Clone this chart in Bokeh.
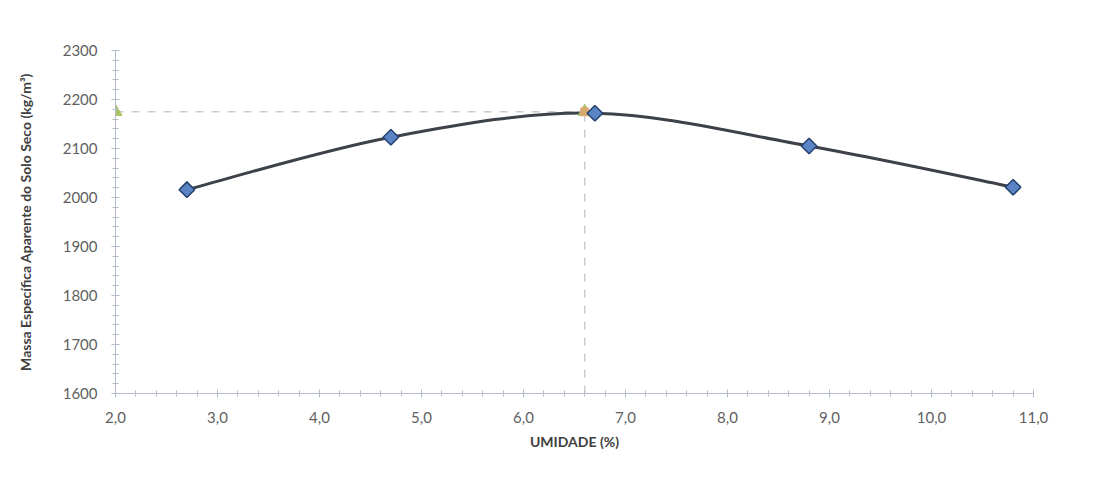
import numpy as np
from bokeh.plotting import figure
from bokeh.models import SingleIntervalTicker, CustomJSTickFormatter, Range1d, ColumnDataSource
from bokeh.embed import file_html
from bokeh.resources import INLINE

# Data
umidade = [2.7, 4.7, 6.7, 8.8, 10.8]
massa = [2016, 2123, 2172, 2105, 2021]
umidade_otima = 6.6
massa_max = 2175
x_min, x_max = 2.0, 11.0
y_min, y_max = 1600, 2300

p = figure(width=1088, height=474, output_backend="svg", toolbar_location=None,
           x_range=Range1d(x_min, x_max), y_range=Range1d(y_min, y_max),
           min_border_left=115, min_border_right=55, min_border_top=50, min_border_bottom=81)
p.frame_width = 918
p.frame_height = 343
p.outline_line_color = None
p.xgrid.grid_line_color = None
p.ygrid.grid_line_color = None
p.background_fill_color = "white"
p.border_fill_color = "white"

axis_col = "#b4bccb"
for ax in (p.xaxis[0], p.yaxis[0]):
    ax.axis_line_color = axis_col
    ax.axis_line_width = 1
    ax.major_tick_line_color = axis_col
    ax.minor_tick_line_color = axis_col
    ax.major_tick_in = 4
    ax.major_tick_out = 4
    ax.minor_tick_in = 3
    ax.minor_tick_out = 3
    ax.major_label_text_font = "Lato"
    ax.major_label_text_font_size = "15px"
    ax.major_label_text_color = "#5f5f5f"
    ax.axis_label_text_font = "Lato"
    ax.axis_label_text_font_size = "14px"
    ax.axis_label_text_font_style = "bold"
    ax.axis_label_text_color = "#404040"

p.xaxis[0].ticker = SingleIntervalTicker(interval=1, num_minor_ticks=5)
p.yaxis[0].ticker = SingleIntervalTicker(interval=100, num_minor_ticks=5)
p.xaxis[0].formatter = CustomJSTickFormatter(code="return tick.toFixed(1).replace('.', ',');")
p.xaxis[0].major_label_standoff = 14
p.yaxis[0].major_label_standoff = 14
p.xaxis[0].axis_label = "UMIDADE (%)"
p.yaxis[0].axis_label = "Massa Específica Aparente do Solo Seco (kg/m³)"
p.xaxis[0].axis_label_standoff = 7
p.yaxis[0].axis_label_standoff = 26

# dashed guide lines to the optimum
p.line([x_min, umidade_otima], [massa_max, massa_max], line_color="#cccccc",
       line_width=1.5, line_dash="8 8")
p.line([umidade_otima, umidade_otima], [y_min, massa_max], line_color="#cccccc",
       line_width=1.5, line_dash="8 8")

# smoothed curve (Excel-like Bezier through the points)
xs = np.array(umidade, dtype=float)
ys = np.array(massa, dtype=float)
n = len(xs)
xp = np.concatenate([[xs[0]], xs, [xs[-1]]])
yp = np.concatenate([[ys[0]], ys, [ys[-1]]])
t = 1.0 / 6.0
src = ColumnDataSource(dict(
    x0=xs[:-1], y0=ys[:-1], x1=xs[1:], y1=ys[1:],
    cx0=xs[:-1] + (xp[2:n + 1] - xp[0:n - 1]) * t,
    cy0=ys[:-1] + (yp[2:n + 1] - yp[0:n - 1]) * t,
    cx1=xs[1:] - (xp[3:n + 2] - xp[1:n]) * t,
    cy1=ys[1:] - (yp[3:n + 2] - yp[1:n]) * t,
))
p.bezier(x0="x0", y0="y0", x1="x1", y1="y1", cx0="cx0", cy0="cy0", cx1="cx1", cy1="cy1",
         source=src, line_color="#3d4249", line_width=3)

# optimum markers
p.scatter([x_min, umidade_otima], [massa_max, massa_max], marker="triangle", size=13,
          fill_color="#a8c464", line_color="#a8c464")
p.scatter([umidade_otima], [massa_max], marker="square", size=8,
          fill_color="#e8a070", line_color="#e8a070", fill_alpha=0.7, line_alpha=0.7)

# data points
p.scatter(umidade, massa, marker="square", angle=np.pi / 4, size=11, fill_color="#5b84c4",
          line_color="#24406e", line_width=1.5)

open("out.html", "w").write(file_html(p, INLINE))
